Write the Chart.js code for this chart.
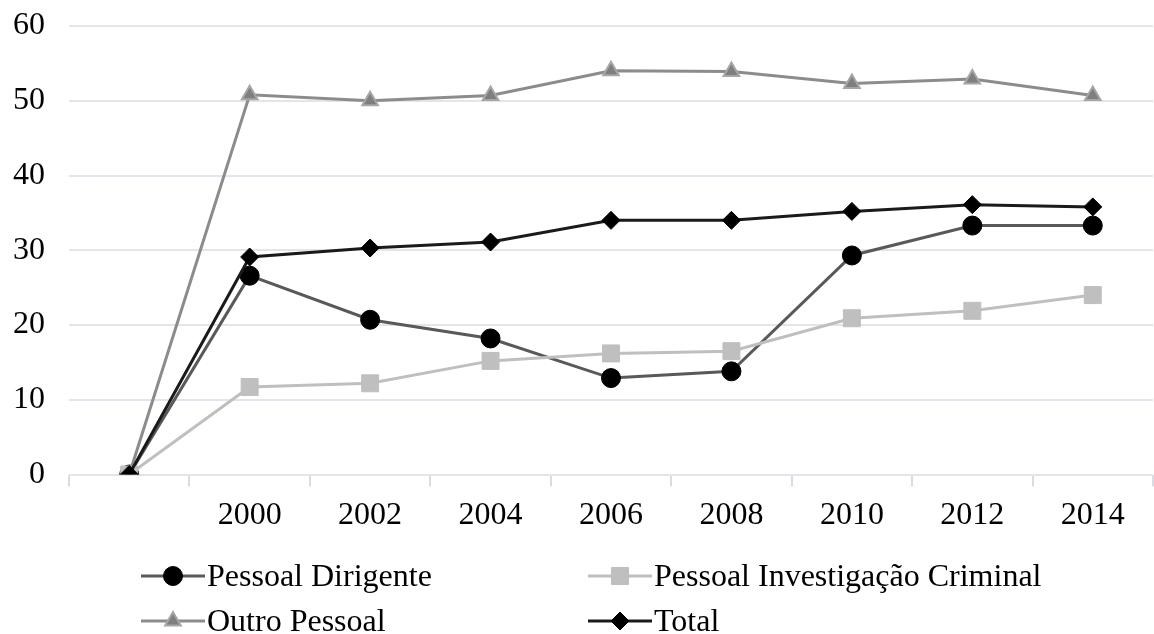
<!DOCTYPE html>
<html>
<head>
<meta charset="utf-8">
<script src="https://cdn.jsdelivr.net/npm/chart.js@4"></script>
<style>
  html, body { margin: 0; padding: 0; background: #fff; overflow: hidden; }
  #wrap { position: absolute; left: 0; top: 0; width: 1166px; height: 634px; }
</style>
</head>
<body>
<div id="wrap"><canvas id="chart"></canvas></div>
<script>
const anos = ['', '2000', '2002', '2004', '2006', '2008', '2010', '2012', '2014'];
const pessoalDirigente = [0, 26.6, 20.7, 18.2, 12.9, 13.8, 29.3, 33.3, 33.3];
const pessoalInvestigacao = [0, 11.7, 12.2, 15.2, 16.2, 16.5, 20.9, 21.9, 24.0];
const outroPessoal = [0, 50.8, 50.0, 50.7, 54.0, 53.9, 52.3, 52.9, 50.7];
const total = [0, 29.1, 30.3, 31.1, 34.0, 34.0, 35.2, 36.1, 35.8];
const yTicks = [0, 10, 20, 30, 40, 50, 60];

const fonte = '"Liberation Serif", "Times New Roman", serif';

// legenda em duas colunas, como no Excel
const legendaPlugin = {
  id: 'legenda',
  afterDraw(chart) {
    const ctx = chart.ctx;
    const colX = [141, 588];
    const rowY = [576, 621];
    chart.data.datasets.forEach(function(ds, i) {
      const x0 = colX[i % 2];
      const y = rowY[Math.floor(i / 2)];
      const len = 64;
      ctx.save();
      ctx.strokeStyle = ds.borderColor;
      ctx.lineWidth = 3;
      ctx.beginPath();
      ctx.moveTo(x0, y);
      ctx.lineTo(x0 + len, y);
      ctx.stroke();
      ctx.fillStyle = ds.pointBackgroundColor;
      ctx.strokeStyle = ds.pointBorderColor;
      ctx.lineWidth = ds.pointBorderWidth;
      Chart.helpers.drawPoint(ctx, {
        pointStyle: ds.pointStyle,
        radius: ds.pointRadius,
        borderWidth: ds.pointBorderWidth,
        rotation: 0
      }, x0 + len / 2, y);
      ctx.fillStyle = '#000';
      ctx.font = '32px ' + fonte;
      ctx.textBaseline = 'middle';
      ctx.textAlign = 'left';
      ctx.fillText(ds.label, x0 + len + 2, y + 2);
      ctx.restore();
    });
  }
};

const ctx = document.getElementById('chart').getContext('2d');
const grafico = new Chart(ctx, {
  type: 'line',
  data: {
    labels: anos,
    datasets: [{
      label: 'Pessoal Dirigente',
      data: pessoalDirigente,
      borderColor: '#595959',
      borderWidth: 3,
      pointStyle: 'circle',
      pointRadius: 9.5,
      pointBackgroundColor: '#000',
      pointBorderColor: '#000',
      pointBorderWidth: 1,
      order: 3
    }, {
      label: 'Pessoal Investigação Criminal',
      data: pessoalInvestigacao,
      borderColor: '#bfbfbf',
      borderWidth: 3,
      pointStyle: 'rect',
      pointRadius: 12,
      pointBackgroundColor: '#bfbfbf',
      pointBorderColor: '#bfbfbf',
      pointBorderWidth: 1,
      order: 2
    }, {
      label: 'Outro Pessoal',
      data: outroPessoal,
      borderColor: '#8c8c8c',
      borderWidth: 3,
      pointStyle: 'triangle',
      pointRadius: 9,
      pointBackgroundColor: '#7f7f7f',
      pointBorderColor: '#a6a6a6',
      pointBorderWidth: 2,
      order: 1
    }, {
      label: 'Total',
      data: total,
      borderColor: '#1a1a1a',
      borderWidth: 3,
      pointStyle: 'rectRot',
      pointRadius: 9,
      pointBackgroundColor: '#000',
      pointBorderColor: '#000',
      pointBorderWidth: 1,
      order: 0
    }]
  },
  options: {
    responsive: true,
    maintainAspectRatio: false,
    animation: false,
    layout: { padding: { top: 26, left: 0, right: 0, bottom: 0 } },
    plugins: {
      legend: { display: false },
      tooltip: { enabled: false }
    },
    scales: {
      x: {
        offset: true,
        grid: {
          offset: true,
          drawOnChartArea: false,
          drawTicks: true,
          tickLength: 12,
          color: '#d9dde3',
          lineWidth: 2
        },
        border: { display: false },
        ticks: {
          color: '#000',
          font: { family: fonte, size: 32 },
          padding: 10,
          maxRotation: 0,
          autoSkip: false
        },
        afterFit(scale) {
          scale.height = 159.5;
          scale.paddingLeft = 0;
          scale.paddingRight = 0;
        }
      },
      y: {
        min: 0,
        max: 60,
        afterBuildTicks(scale) { scale.ticks = yTicks.map(function(v) { return { value: v }; }); },
        grid: { color: '#e1e5ec', lineWidth: 2, drawTicks: false },
        border: { display: false },
        ticks: {
          color: '#000',
          font: { family: fonte, size: 32 },
          padding: 24
        },
        afterFit(scale) {
          scale.width = 69;
          scale.paddingTop = 0;
          scale.paddingBottom = 0;
        }
      }
    }
  },
  plugins: [legendaPlugin]
});
</script>
</body>
</html>
